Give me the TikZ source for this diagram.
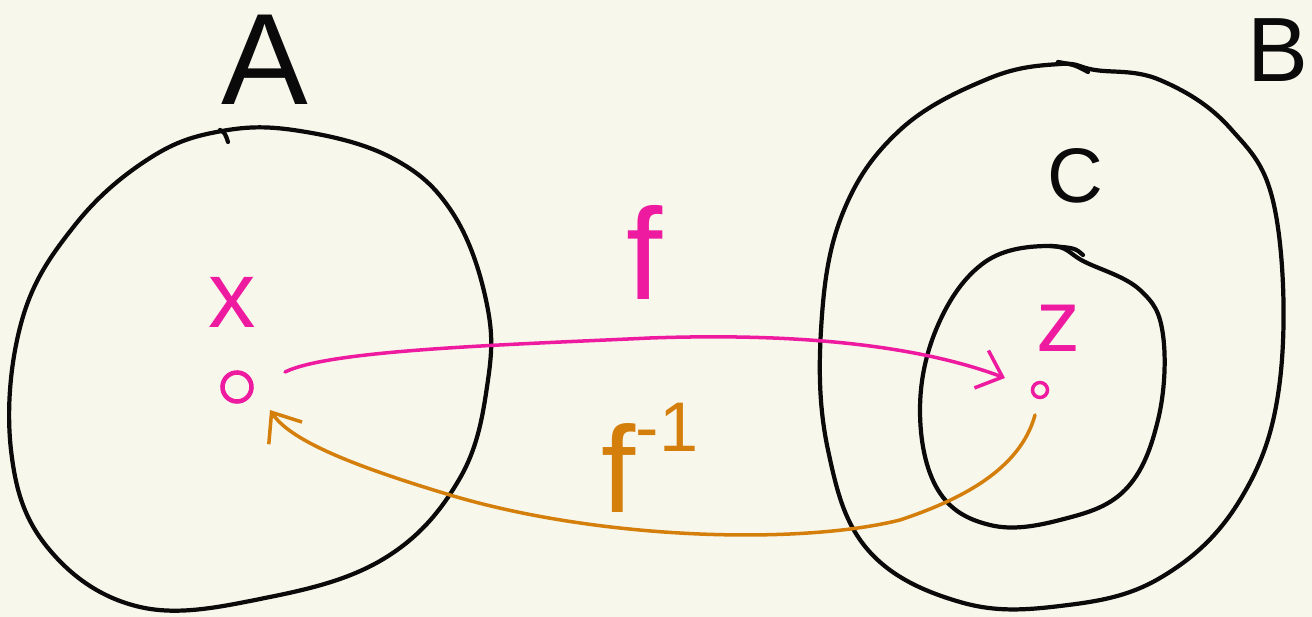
\documentclass[tikz,border=0pt]{standalone}
\usepackage{fontspec}
\setmainfont{Liberation Sans}
\usepackage{xcolor}
\usetikzlibrary{arrows.meta}
\definecolor{paperCream}{HTML}{F8F7EB}
\definecolor{inkBlack}{HTML}{0A0A0A}
\definecolor{pinkMain}{HTML}{EE1AA0}
\definecolor{orangeMain}{HTML}{D47F0C}

\begin{document}
\begin{tikzpicture}[x=0.02cm, y=-0.02cm,
    setline/.style={inkBlack, line width=2.4pt, line cap=round, line join=round},
    maplabel/.style={inner sep=0pt},
    pointdot/.style={draw=pinkMain, circle, inner sep=0pt, line width=2.6pt}]

            % page
            \fill[paperCream] (0,0) rectangle (1312,617);
            \useasboundingbox (0,0) rectangle (1312,617);
            
            % set A
            \draw[setline] plot[smooth cycle, tension=0.65] coordinates {
                (222,131) (150,158) (75,225) (22,320) (11,450) (48,548)
                (140,607) (265,598) (385,558) (460,478) (488,380) (486,300)
                (452,212) (392,158) (300,131)};
            \draw[setline] (220,130) .. controls (225,133) .. (228,142);
            
            % set B
            \draw[setline] plot[smooth cycle, tension=0.65] coordinates {
                (1060,64) (990,78) (900,130) (842,215) (821,330) (828,450)
                (868,550) (960,602) (1060,606) (1160,578) (1240,500)
                (1280,380) (1275,210) (1230,128) (1160,80) (1095,70)};
            \draw[setline] (1058,62) .. controls (1075,65) .. (1088,72);
            
            % set C
            \draw[setline] plot[smooth cycle, tension=0.65] coordinates {
                (1050,246) (985,262) (938,325) (920,410) (938,490)
                (990,525) (1060,520) (1125,490) (1158,420) (1163,335)
                (1140,290) (1085,262)};
            \draw[setline] (1050,246) .. controls (1075,248) .. (1083,255);
            
            % set names
            \node[maplabel, inkBlack, font=\fontsize{74}{74}\selectfont] (nameA) at (265,60) {A};
            \node[maplabel, inkBlack, font=\fontsize{52}{52}\selectfont] (nameB) at (1278,50) {B};
            \node[maplabel, inkBlack, font=\fontsize{44}{44}\selectfont] (nameC) at (1075,176) {C};
            
            % points
            \node[pointdot, minimum width=0.5cm, minimum height=0.58cm, rotate=20] (xpt) at (237,387) {};
            \node[pointdot, minimum width=0.3cm, minimum height=0.24cm, line width=2pt] (zpt) at (1040,390) {};
            \node[maplabel, pinkMain, font=\fontsize{54}{54}\selectfont] (xname) at (232,302) {x};
            \node[maplabel, pinkMain, font=\fontsize{50}{50}\selectfont] (zname) at (1058,328) {z};
            
            % maps
            \node[maplabel, pinkMain, font=\fontsize{74}{74}\selectfont] (fname) at (645,252) {f};
            \node[maplabel, orangeMain, font=\fontsize{70}{70}\selectfont] (finvname) at (650,458) {f\raisebox{0.5em}{\fontsize{40}{40}\selectfont -1}};
            
            \draw[pinkMain, line width=2pt, line cap=round, -{Straight Barb[length=0.45cm, width=0.8cm, line width=2pt]}]
                ([shift={(48,-15)}]xpt.center) .. controls (330,350) and (500,345) .. (650,338)
                .. controls (820,332) and (930,350) .. ([shift={(-35,-12)}]zpt.center);
            
            \draw[orangeMain, line width=2pt, line cap=round, -{Straight Barb[length=0.5cm, width=0.8cm, line width=2pt]}]
                ([shift={(-5,25)}]zpt.center) .. controls (1020,470) and (960,500) .. (900,520)
                .. controls (800,545) and (600,540) .. (450,495)
                .. controls (350,465) and (290,440) .. ([shift={(33,23)}]xpt.center);

\end{tikzpicture}
\end{document}
